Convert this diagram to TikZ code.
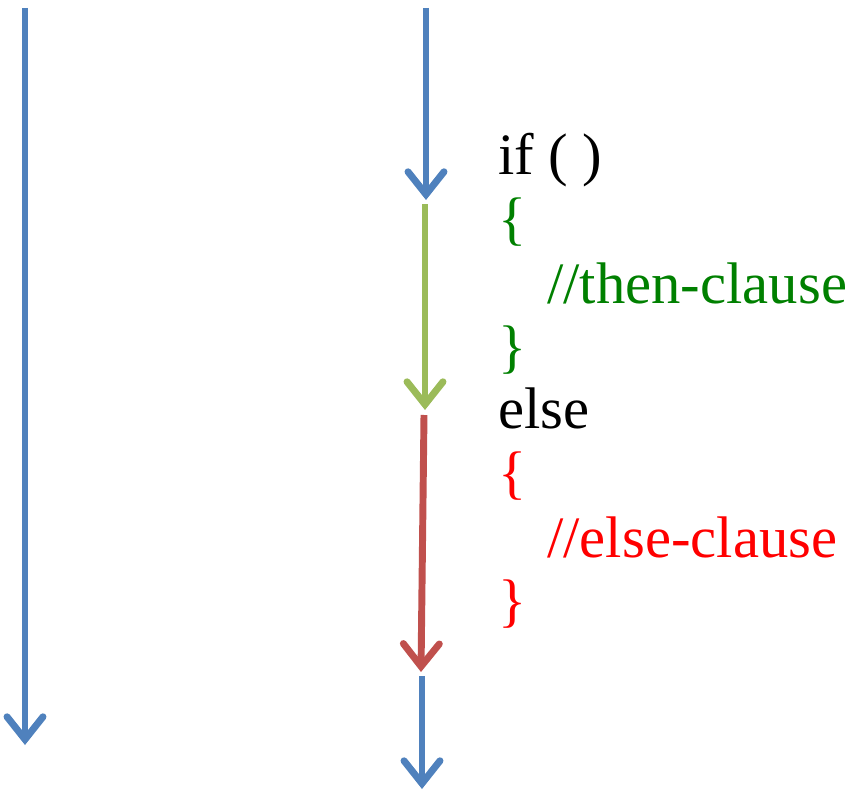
\documentclass[tikz,border=0pt]{standalone}
\usepackage{fontspec}
\setmainfont{Liberation Serif}
\usetikzlibrary{arrows.meta}
\definecolor{flowblue}{HTML}{4F81BD}
\definecolor{flowgreen}{HTML}{9BBB59}
\definecolor{flowred}{HTML}{C0504D}
\definecolor{thengreen}{HTML}{008000}

\begin{document}
\begin{tikzpicture}[x=0.75pt,y=-0.75pt,
   flow/.style={line width=5.2pt,-{Straight Barb[length=17pt,width=27pt,line cap=round]}},
   code/.style={anchor=base west,inner sep=0pt,font=\fontsize{44}{52}\selectfont}]
\useasboundingbox (0,0) rectangle (868,792);
% straight line program
\coordinate (s0) at (25,8);
\coordinate (s1) at (25,745);
\draw[flow,flowblue] (s0) -- (s1);
% if-else program
\coordinate (in0) at (426,8);
\coordinate (in1) at (426,200);
\coordinate (th0) at (425,204);
\coordinate (th1) at (425,410);
\coordinate (el0) at (424,415);
\coordinate (el1) at (421,672);
\coordinate (out0) at (422,676);
\coordinate (out1) at (422,789);
\draw[flow,flowblue] (in0) -- (in1);
\draw[flow,flowgreen] (th0) -- (th1);
\draw[flow,flowred] (el0) -- (el1);
\draw[flow,flowblue] (out0) -- (out1);
\node[code] (if) at (498,174) {if~( )};
\node[code,thengreen] (thenopen) at (498,238) {\{};
\node[code,thengreen] (then) at (547,303) {//then-clause};
\node[code,thengreen] (thenclose) at (498,366) {\}};
\node[code] (else) at (498,428) {else};
\node[code,red] (elseopen) at (498,492) {\{};
\node[code,red] (elsebody) at (547,557) {//else-clause};
\node[code,red] (elseclose) at (498,620) {\}};
\end{tikzpicture}
\end{document}
